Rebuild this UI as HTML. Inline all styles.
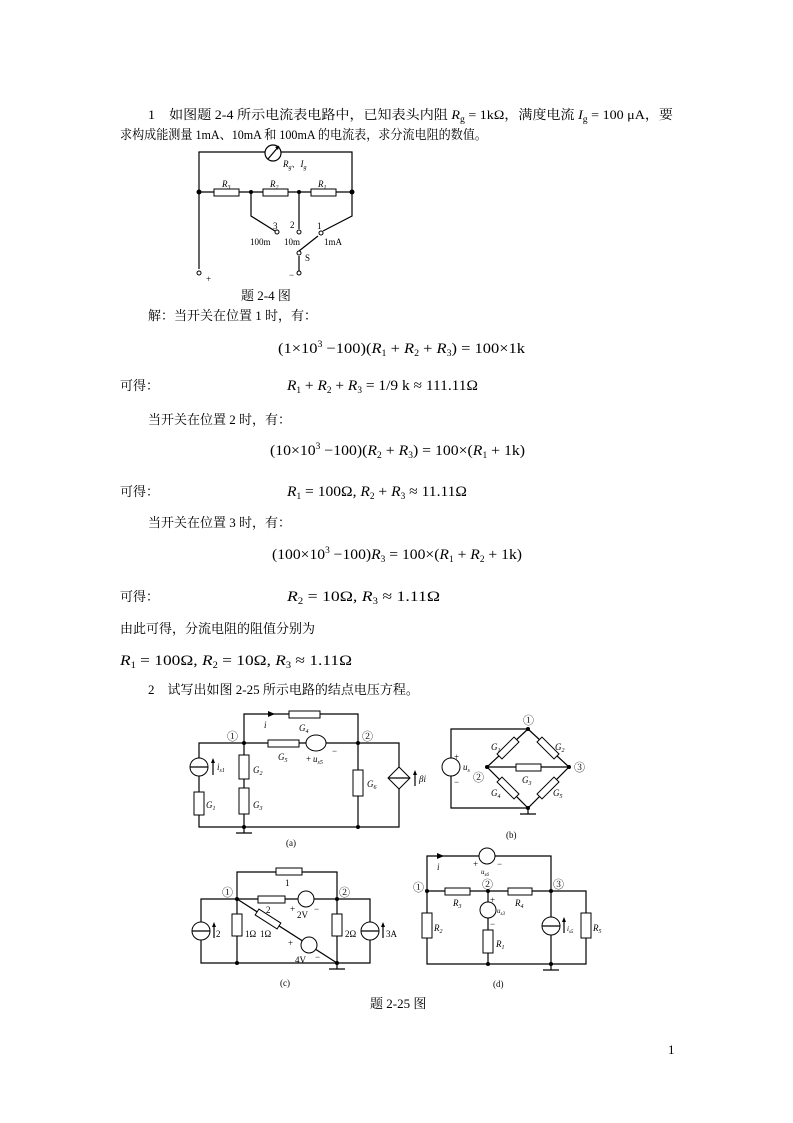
<!DOCTYPE html>
<html><head><meta charset="utf-8"><style>
html,body{margin:0;padding:0;background:#fff;}
svg{display:block;}
text{font-family:"Liberation Serif","Noto Serif CJK SC",serif;fill:#000;}
.t{font-size:13px;}
.e{font-size:15px;}
.s{font-size:9px;}
.w{stroke:#000;stroke-width:1.2;fill:none;}
.b{stroke:#000;stroke-width:1;fill:#fff;}
</style></head><body>
<svg width="793" height="1123" viewBox="0 0 793 1123" xmlns="http://www.w3.org/2000/svg">
<text class="t" x="148" y="119" textLength="525" lengthAdjust="spacingAndGlyphs">1　如图题 2-4 所示电流表电路中，已知表头内阻 <tspan font-style="italic">R</tspan><tspan font-size="9" dy="3">g</tspan><tspan dy="-3"> = 1kΩ，满度电流 </tspan><tspan font-style="italic">I</tspan><tspan font-size="9" dy="3">g</tspan><tspan dy="-3"> = 100 μA，要</tspan></text>
<text class="t" x="120" y="139" textLength="367" lengthAdjust="spacingAndGlyphs">求构成能测量 1mA、10mA 和 100mA 的电流表，求分流电阻的数值。</text>

<g class="w">
<path d="M199 192V152H265M281 152H352V192"/>
<circle cx="273" cy="153" r="8"/>
<path d="M268 159L279 146"/>
<path d="M199 192H214M239 192H263M288 192H311M336 192H352"/>
<path d="M251 192V216L275 231"/>
<path d="M299 192V229"/>
<path d="M352 192V216L323 231"/>
<path d="M299 251L318 236"/>
<path d="M299 256V271"/>
<path d="M199 192V269"/>
</g>
<polygon points="279,146 275,147 278,150"/>
<rect class="b" x="214" y="189" width="25" height="7"/><rect class="b" x="263" y="189" width="25" height="7"/><rect class="b" x="311" y="189" width="25" height="7"/>
<g fill="#000"><circle cx="199" cy="192" r="2.5"/><circle cx="251" cy="192" r="2"/><circle cx="299" cy="192" r="2"/><circle cx="352" cy="192" r="2.5"/></g>
<g class="b"><circle cx="277" cy="232" r="2"/><circle cx="299" cy="232" r="2"/><circle cx="321" cy="233" r="2"/><circle cx="299" cy="253" r="2"/><circle cx="299" cy="273" r="2"/><circle cx="199" cy="273" r="2"/></g>
<text class="s" x="283" y="167" font-style="italic">R<tspan font-size="6" dy="2">g</tspan><tspan dy="-2" font-style="normal">、</tspan>I<tspan font-size="6" dy="2">g</tspan></text>
<text class="s" x="222" y="187" font-style="italic">R<tspan font-size="6" dy="2">3</tspan></text>
<text class="s" x="270" y="187" font-style="italic">R<tspan font-size="6" dy="2">2</tspan></text>
<text class="s" x="318" y="187" font-style="italic">R<tspan font-size="6" dy="2">1</tspan></text>
<text class="s" x="273" y="229">3</text><text class="s" x="290" y="228">2</text><text class="s" x="317" y="229">1</text>
<text class="s" x="250" y="245">100m</text><text class="s" x="284" y="245">10m</text><text class="s" x="324" y="245">1mA</text>
<text class="s" x="305" y="261">S</text><text class="s" x="289" y="278">−</text><text class="s" x="206" y="282">+</text>
<text class="t" x="241" y="300" font-size="11">题 2-4 图</text>

<text class="t" x="148" y="320">解：当开关在位置 1 时，有：</text>
<text class="e" x="278" y="353" textLength="247" lengthAdjust="spacingAndGlyphs">(1×10<tspan font-size="9" dy="-6">3</tspan><tspan dy="6"> −100)(</tspan><tspan font-style="italic">R</tspan><tspan font-size="9" dy="3">1</tspan><tspan dy="-3"> + </tspan><tspan font-style="italic">R</tspan><tspan font-size="9" dy="3">2</tspan><tspan dy="-3"> + </tspan><tspan font-style="italic">R</tspan><tspan font-size="9" dy="3">3</tspan><tspan dy="-3">) = 100×1k</tspan></text>
<text class="t" x="120" y="390">可得：</text>
<text class="e" x="287" y="390" textLength="191" lengthAdjust="spacingAndGlyphs"><tspan font-style="italic">R</tspan><tspan font-size="9" dy="3">1</tspan><tspan dy="-3"> + </tspan><tspan font-style="italic">R</tspan><tspan font-size="9" dy="3">2</tspan><tspan dy="-3"> + </tspan><tspan font-style="italic">R</tspan><tspan font-size="9" dy="3">3</tspan><tspan dy="-3"> = 1/9 k ≈ 111.11Ω</tspan></text>
<text class="t" x="148" y="424">当开关在位置 2 时，有：</text>
<text class="e" x="270" y="455" textLength="255" lengthAdjust="spacingAndGlyphs">(10×10<tspan font-size="9" dy="-6">3</tspan><tspan dy="6"> −100)(</tspan><tspan font-style="italic">R</tspan><tspan font-size="9" dy="3">2</tspan><tspan dy="-3"> + </tspan><tspan font-style="italic">R</tspan><tspan font-size="9" dy="3">3</tspan><tspan dy="-3">) = 100×(</tspan><tspan font-style="italic">R</tspan><tspan font-size="9" dy="3">1</tspan><tspan dy="-3"> + 1k)</tspan></text>
<text class="t" x="120" y="496">可得：</text>
<text class="e" x="287" y="496" textLength="180" lengthAdjust="spacingAndGlyphs"><tspan font-style="italic">R</tspan><tspan font-size="9" dy="3">1</tspan><tspan dy="-3"> = 100Ω,  </tspan><tspan font-style="italic">R</tspan><tspan font-size="9" dy="3">2</tspan><tspan dy="-3"> + </tspan><tspan font-style="italic">R</tspan><tspan font-size="9" dy="3">3</tspan><tspan dy="-3"> ≈ 11.11Ω</tspan></text>
<text class="t" x="148" y="527">当开关在位置 3 时，有：</text>
<text class="e" x="272" y="559" textLength="250" lengthAdjust="spacingAndGlyphs">(100×10<tspan font-size="9" dy="-6">3</tspan><tspan dy="6"> −100)</tspan><tspan font-style="italic">R</tspan><tspan font-size="9" dy="3">3</tspan><tspan dy="-3"> = 100×(</tspan><tspan font-style="italic">R</tspan><tspan font-size="9" dy="3">1</tspan><tspan dy="-3"> + </tspan><tspan font-style="italic">R</tspan><tspan font-size="9" dy="3">2</tspan><tspan dy="-3"> + 1k)</tspan></text>
<text class="t" x="120" y="601">可得：</text>
<text class="e" x="287" y="601" textLength="153" lengthAdjust="spacingAndGlyphs"><tspan font-style="italic">R</tspan><tspan font-size="9" dy="3">2</tspan><tspan dy="-3"> = 10Ω,  </tspan><tspan font-style="italic">R</tspan><tspan font-size="9" dy="3">3</tspan><tspan dy="-3"> ≈ 1.11Ω</tspan></text>
<text class="t" x="120" y="633">由此可得，分流电阻的阻值分别为</text>
<text class="e" x="120" y="665" textLength="232" lengthAdjust="spacingAndGlyphs"><tspan font-style="italic">R</tspan><tspan font-size="9" dy="3">1</tspan><tspan dy="-3"> = 100Ω,  </tspan><tspan font-style="italic">R</tspan><tspan font-size="9" dy="3">2</tspan><tspan dy="-3"> = 10Ω,  </tspan><tspan font-style="italic">R</tspan><tspan font-size="9" dy="3">3</tspan><tspan dy="-3"> ≈ 1.11Ω</tspan></text>
<text class="t" x="148" y="694">2　试写出如图 2-25 所示电路的结点电压方程。</text>

<!-- (a) -->
<g class="w">
<path d="M244 743V714H358V743"/>
<path d="M199 743H399V827H199Z"/>
<path d="M244 743V827M358 743V827"/>
<path d="M244 827V833M236 833H252"/>
</g>
<polygon points="275,714 268,711 268,717"/>
<rect class="b" x="289" y="711" width="31" height="7"/>
<rect class="b" x="268" y="740" width="31" height="7"/>
<ellipse class="b" cx="316" cy="743" rx="10" ry="8"/>
<circle class="b" cx="199" cy="767" r="9"/><path class="w" d="M190 767H208"/>
<path class="w" d="M213 775V762"/><polygon points="213,758 211,763 215,763"/>
<rect class="b" x="194" y="792" width="10" height="23"/>
<rect class="b" x="239" y="755" width="10" height="24"/>
<rect class="b" x="239" y="788" width="10" height="26"/>
<rect class="b" x="353" y="770" width="10" height="26"/>
<polygon class="b" points="399,767 410,778 399,789 388,778"/><path class="w" d="M388 778H410"/>
<path class="w" d="M415 786V774"/><polygon points="415,770 413,775 417,775"/>
<g fill="#000"><circle cx="244" cy="743" r="2"/><circle cx="358" cy="743" r="2"/><circle cx="244" cy="827" r="2"/><circle cx="358" cy="827" r="2"/></g>
<g class="s">
<text x="227" y="740" font-size="11">①</text><text x="362" y="740" font-size="11">②</text>
<text x="264" y="728" font-style="italic">i</text>
<text x="299" y="731" font-style="italic">G<tspan font-size="6" dy="2">4</tspan></text>
<text x="278" y="760" font-style="italic">G<tspan font-size="6" dy="2">5</tspan></text>
<text x="306" y="762">+</text><text x="332" y="754">−</text>
<text x="313" y="762" font-style="italic">u<tspan font-size="6" dy="2">s5</tspan></text>
<text x="217" y="770" font-style="italic">i<tspan font-size="6" dy="2">s1</tspan></text>
<text x="206" y="808" font-style="italic">G<tspan font-size="6" dy="2">1</tspan></text>
<text x="253" y="773" font-style="italic">G<tspan font-size="6" dy="2">2</tspan></text>
<text x="253" y="808" font-style="italic">G<tspan font-size="6" dy="2">3</tspan></text>
<text x="367" y="787" font-style="italic">G<tspan font-size="6" dy="2">6</tspan></text>
<text x="419" y="782" font-style="italic">βi</text>
<text x="286" y="846">(a)</text>
</g>

<!-- (b) -->
<g class="w">
<path d="M528 729H451V808H528"/>
<path d="M528 729L487 767L528 808L569 767Z"/>
<path d="M487 767H569"/>
<path d="M528 808V814M520 814H536"/>
</g>
<rect class="b" x="516" y="764" width="25" height="7"/>
<rect class="b" x="-12" y="-3.5" width="24" height="7" transform="translate(508,748) rotate(-45)"/>
<rect class="b" x="-12" y="-3.5" width="24" height="7" transform="translate(548,748) rotate(45)"/>
<rect class="b" x="-12" y="-3.5" width="24" height="7" transform="translate(508,788) rotate(45)"/>
<rect class="b" x="-12" y="-3.5" width="24" height="7" transform="translate(548,788) rotate(-45)"/>
<circle class="b" cx="451" cy="767" r="9"/>
<g fill="#000"><circle cx="528" cy="729" r="2"/><circle cx="487" cy="767" r="2"/><circle cx="569" cy="767" r="2"/><circle cx="528" cy="808" r="2"/></g>
<g class="s">
<text x="523" y="724" font-size="11">①</text><text x="473" y="781" font-size="11">②</text><text x="574" y="771" font-size="11">③</text>
<text x="491" y="750" font-style="italic">G<tspan font-size="6" dy="2">1</tspan></text>
<text x="555" y="750" font-style="italic">G<tspan font-size="6" dy="2">2</tspan></text>
<text x="522" y="783" font-style="italic">G<tspan font-size="6" dy="2">3</tspan></text>
<text x="491" y="796" font-style="italic">G<tspan font-size="6" dy="2">4</tspan></text>
<text x="553" y="796" font-style="italic">G<tspan font-size="6" dy="2">5</tspan></text>
<text x="454" y="760">+</text><text x="454" y="785">−</text>
<text x="463" y="770" font-style="italic">u<tspan font-size="6" dy="2">s</tspan></text>
<text x="506" y="838">(b)</text>
</g>

<!-- (c) -->
<g class="w">
<path d="M237 899V872H337V899"/>
<path d="M201 899H370V963H201Z"/>
<path d="M237 899V963M337 899V963"/>
<path d="M237 899L337 963"/>
<path d="M337 963V969M329 969H345"/>
</g>
<rect class="b" x="276" y="868" width="26" height="7"/>
<rect class="b" x="258" y="896" width="27" height="7"/>
<circle class="b" cx="306" cy="899" r="8"/>
<rect class="b" x="-13" y="-3.5" width="26" height="7" transform="translate(268,919) rotate(32.6)"/>
<circle class="b" cx="309" cy="945" r="8"/>
<circle class="b" cx="201" cy="931" r="9"/><path class="w" d="M192 931H210"/>
<path class="w" d="M214 938V926"/><polygon points="214,922 212,927 216,927"/>
<circle class="b" cx="370" cy="931" r="9"/><path class="w" d="M361 931H379"/>
<path class="w" d="M383 938V926"/><polygon points="383,922 381,927 385,927"/>
<rect class="b" x="232" y="914" width="10" height="22"/>
<rect class="b" x="332" y="914" width="10" height="22"/>
<g fill="#000"><circle cx="237" cy="899" r="2"/><circle cx="337" cy="899" r="2"/><circle cx="237" cy="963" r="2"/><circle cx="337" cy="963" r="2"/></g>
<g class="s" font-size="10">
<text x="222" y="896" font-size="11">①</text><text x="339" y="896" font-size="11">②</text>
<text x="285" y="886">1</text>
<text x="266" y="913">2</text>
<text x="290" y="912">+</text><text x="314" y="912">−</text>
<text x="297" y="918">2V</text>
<text x="216" y="937">2</text>
<text x="245" y="937">1Ω</text><text x="260" y="937">1Ω</text>
<text x="288" y="946">+</text>
<text x="295" y="963">4V</text><text x="315" y="960">−</text>
<text x="345" y="937">2Ω</text>
<text x="386" y="937">3A</text>
<text x="280" y="986" font-size="9">(c)</text>
</g>

<!-- (d) -->
<g class="w">
<path d="M427 891V856H551V891"/>
<path d="M427 891H586V964H427Z"/>
<path d="M488 891V964M551 891V964"/>
<path d="M551 964V970M543 970H559"/>
</g>
<polygon points="444,856 437,853 437,859"/>
<circle class="b" cx="487" cy="856" r="8"/>
<rect class="b" x="445" y="888" width="25" height="7"/>
<rect class="b" x="508" y="888" width="24" height="7"/>
<rect class="b" x="422" y="913" width="10" height="25"/>
<circle class="b" cx="488" cy="910" r="8"/>
<rect class="b" x="483" y="930" width="10" height="23"/>
<circle class="b" cx="551" cy="926" r="9"/><path class="w" d="M542 926H560"/>
<path class="w" d="M564 933V921"/><polygon points="564,917 562,922 566,922"/>
<rect class="b" x="581" y="913" width="10" height="25"/>
<g fill="#000"><circle cx="427" cy="891" r="2"/><circle cx="488" cy="891" r="2"/><circle cx="551" cy="891" r="2"/><circle cx="488" cy="964" r="2"/><circle cx="551" cy="964" r="2"/></g>
<g class="s">
<text x="413" y="891" font-size="11">①</text><text x="482" y="888" font-size="11">②</text><text x="553" y="888" font-size="11">③</text>
<text x="437" y="870" font-style="italic">i</text>
<text x="473" y="867">+</text><text x="497" y="867">−</text>
<text x="481" y="874" font-size="7" font-style="italic">u<tspan font-size="5" dy="2">s6</tspan></text>
<text x="453" y="906" font-style="italic">R<tspan font-size="6" dy="2">3</tspan></text>
<text x="515" y="906" font-style="italic">R<tspan font-size="6" dy="2">4</tspan></text>
<text x="490" y="903">+</text><text x="490" y="927">−</text>
<text x="497" y="913" font-size="7" font-style="italic">u<tspan font-size="5" dy="2">s3</tspan></text>
<text x="434" y="931" font-style="italic">R<tspan font-size="6" dy="2">2</tspan></text>
<text x="496" y="947" font-style="italic">R<tspan font-size="6" dy="2">1</tspan></text>
<text x="567" y="931" font-size="7" font-style="italic">i<tspan font-size="5" dy="2">s5</tspan></text>
<text x="593" y="931" font-style="italic">R<tspan font-size="6" dy="2">5</tspan></text>
<text x="493" y="987">(d)</text>
</g>

<text class="t" x="370" y="1008" font-size="11">题 2-25 图</text>
<text class="t" x="668" y="1054" font-size="11">1</text>
</svg>
</body></html>
